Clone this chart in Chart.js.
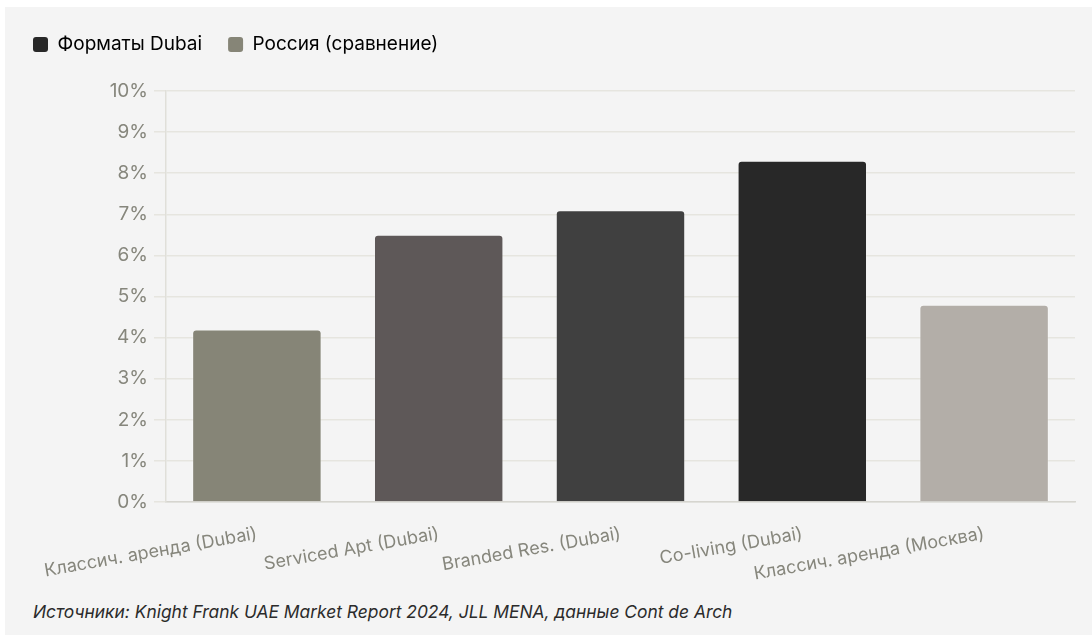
<!DOCTYPE html>
<html lang="ru">
<head>
<meta charset="utf-8">
<script src="https://cdn.jsdelivr.net/npm/chart.js@4.4.0/dist/chart.umd.min.js"></script>
<style>
  html, body { margin: 0; padding: 0; background: #ffffff; }
  #caja {
    position: absolute; left: 5px; top: 7px; width: 1087px; height: 628px;
    background: #f4f4f4;
  }
  #lienzo { position: absolute; left: 0; top: 0; width: 1087px; height: 588px; }
  #fuente {
    position: absolute; left: 28px; top: 594px; margin: 0;
    font-family: Inter, "Noto Sans", sans-serif; font-style: italic;
    font-size: 17.4px; color: #2b2b2b;
  }
</style>
</head>
<body>
<div id="caja">
  <canvas id="lienzo" width="1087" height="588"></canvas>
  <p id="fuente">Источники: Knight Frank UAE Market Report 2024, JLL MENA, данные Cont de Arch</p>
</div>
<script>
// Datos del gráfico
const categorias = [
    'Классич. аренда (Dubai)',
    'Serviced Apt (Dubai)',
    'Branded Res. (Dubai)',
    'Co-living (Dubai)',
    'Классич. аренда (Москва)'
];
const valoresDubai = [4.2, 6.5, 7.1, 8.3, null];
const valoresRusia = [null, null, null, null, 4.8];
const coloresDubai = ['#868577', '#5e5858', '#404040', '#282828', '#282828'];
const colorRusia = '#b3aea8';
const nombresSeries = ['Форматы Dubai', 'Россия (сравнение)'];
const coloresLeyenda = ['#282828', '#868577'];
const ticksY = [0, 1, 2, 3, 4, 5, 6, 7, 8, 9, 10];

const fuente = 'Inter, "Noto Sans", sans-serif';

// Espacio extra bajo la leyenda
const espacioLeyenda = {
    id: 'espacioLeyenda',
    beforeInit(chart) {
        const ajusteOriginal = chart.legend.fit;
        chart.legend.fit = function () {
            ajusteOriginal.bind(chart.legend)();
            this.height += 27;
        };
    }
};

const ctx = document.getElementById('lienzo').getContext('2d');

new Chart(ctx, {
    type: 'bar',
    data: {
        labels: categorias,
        datasets: [{
            label: nombresSeries[0],
            data: valoresDubai,
            backgroundColor: coloresDubai,
            borderColor: 'rgba(255,255,255,0.25)',
            borderWidth: 1,
            borderRadius: 4,
            borderSkipped: 'bottom'
        }, {
            label: nombresSeries[1],
            data: valoresRusia,
            backgroundColor: colorRusia,
            borderColor: 'rgba(255,255,255,0.25)',
            borderWidth: 1,
            borderRadius: 4,
            borderSkipped: 'bottom'
        }]
    },
    plugins: [espacioLeyenda],
    options: {
        responsive: false,
        animation: false,
        layout: { padding: { left: 2, right: 17, top: 2, bottom: 0 } },
        datasets: {
            bar: { grouped: false, categoryPercentage: 0.8, barPercentage: 0.89 }
        },
        plugins: {
            tooltip: { enabled: false },
            legend: {
                position: 'top',
                align: 'start',
                labels: {
                    boxWidth: 15,
                    boxHeight: 15,
                    padding: 26,
                    color: '#2f2f2f',
                    font: { family: fuente, size: 19 },
                    generateLabels: () => nombresSeries.map((nombre, i) => ({
                        text: nombre,
                        fillStyle: coloresLeyenda[i],
                        strokeStyle: coloresLeyenda[i],
                        lineWidth: 0,
                        borderRadius: 3,
                        datasetIndex: i
                    }))
                }
            }
        },
        scales: {
            x: {
                grid: { display: false },
                border: { color: '#d6d5cf', width: 1.5 },
                afterFit: eje => { eje.height = 93; },
                ticks: {
                    color: '#86867c',
                    font: { family: fuente, size: 18 },
                    minRotation: 10,
                    maxRotation: 10,
                    padding: 13
                }
            },
            y: {
                min: 0,
                max: 10,
                afterBuildTicks: eje => { eje.ticks = ticksY.map(v => ({ value: v })); },
                afterFit: eje => { eje.width = 159; },
                grid: { color: '#e6e5df', lineWidth: 1.5, tickLength: 12 },
                border: { color: '#e0dfd9', width: 1.5 },
                ticks: {
                    color: '#86867c',
                    font: { family: fuente, size: 19 },
                    padding: 6,
                    callback: v => v + '%'
                }
            }
        }
    }
});
</script>
</body>
</html>
